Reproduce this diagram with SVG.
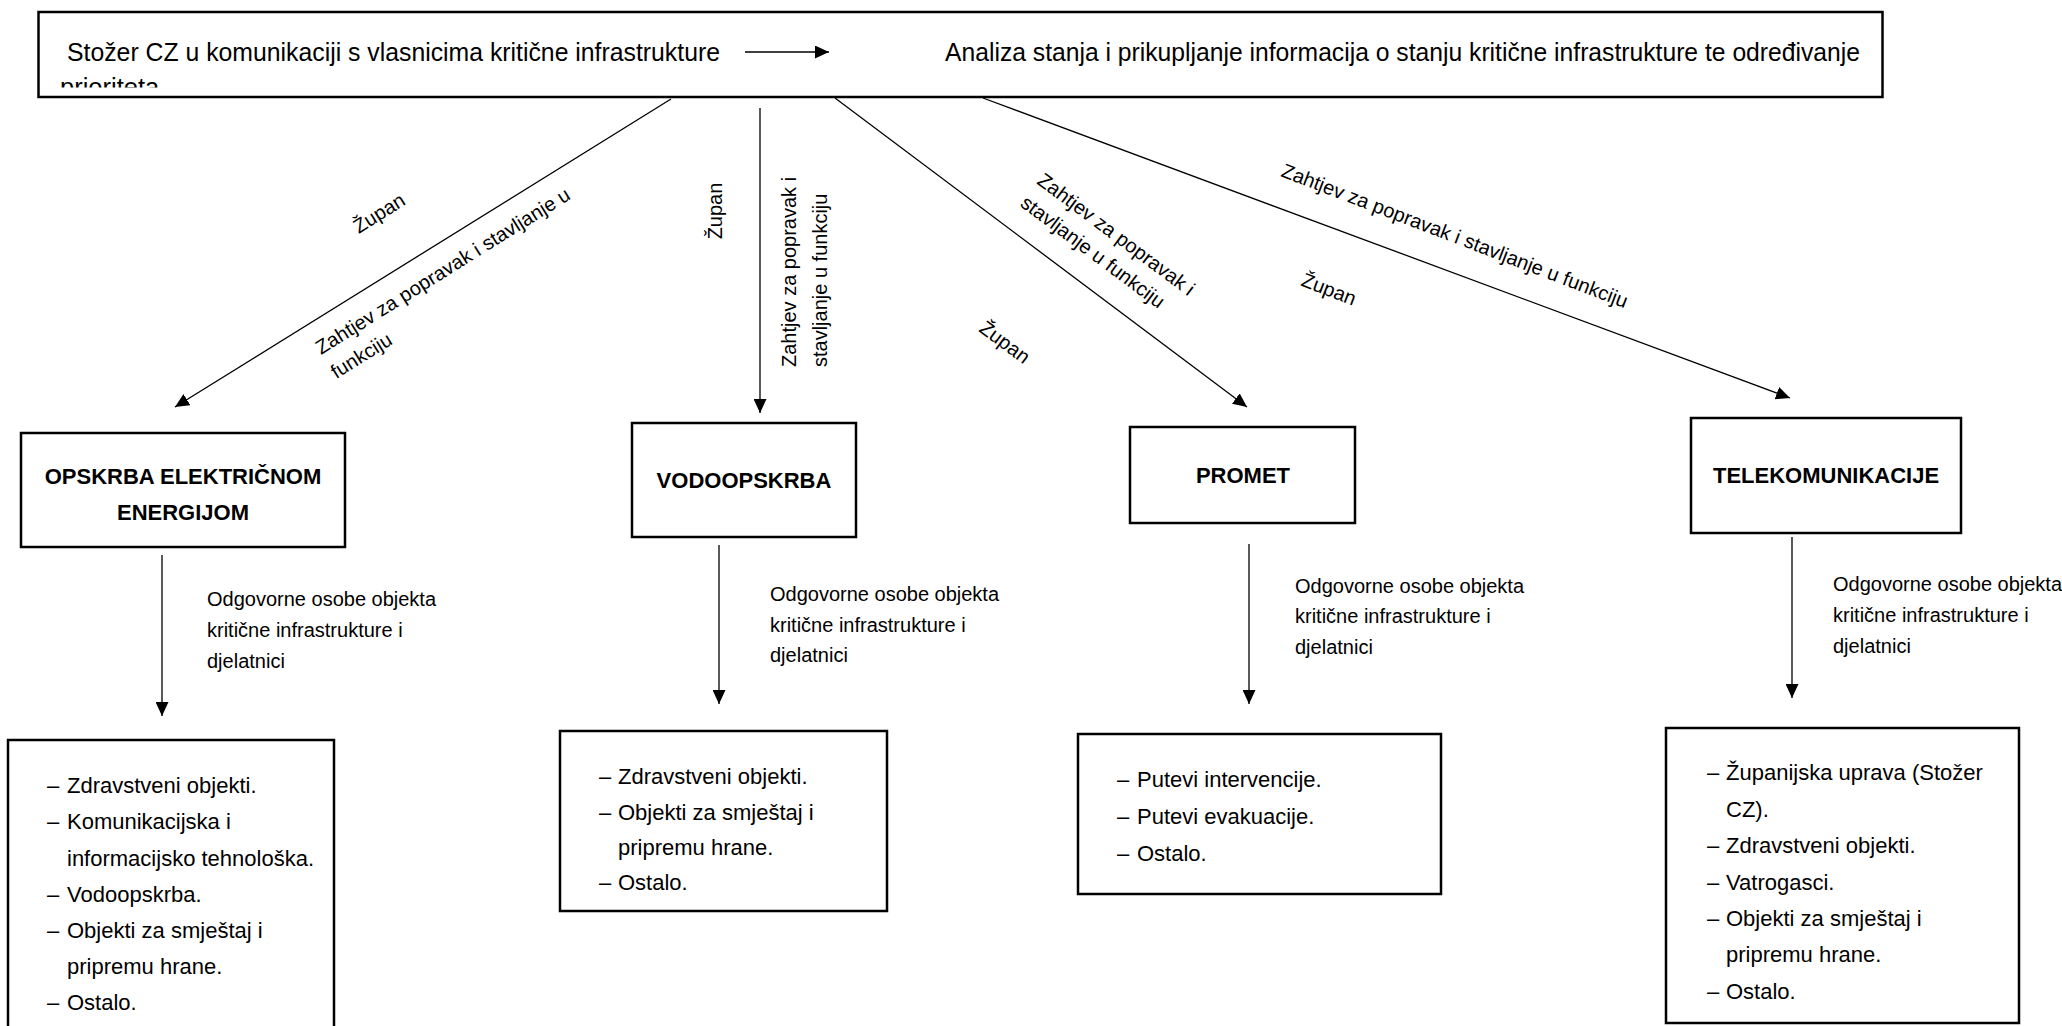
<svg xmlns="http://www.w3.org/2000/svg" width="2062" height="1026" viewBox="0 0 2062 1026">
<defs>
<marker id="ah" markerUnits="userSpaceOnUse" markerWidth="14" markerHeight="13" refX="14" refY="6.5" orient="auto"><path d="M0,0 L14,6.5 L0,13 z" fill="#000"/></marker>
<clipPath id="topclip"><rect x="40" y="13" width="1842" height="74.5"/></clipPath>
</defs>
<style>
text{font-family:"Liberation Sans",Arial,sans-serif;fill:#000}
.box{fill:#fff;stroke:#000;stroke-width:2.5}
.title{font-size:22px;font-weight:bold;text-anchor:middle}
.lbl{font-size:20px}
.mid{text-anchor:middle}
.item{font-size:22px}
.top{font-size:25.5px}
.conn{stroke:#000;stroke-width:1.3;fill:none;marker-end:url(#ah)}
</style>
<rect width="2062" height="1026" fill="#fff"/>

<g id="top-box">
<rect class="box" x="38.5" y="12" width="1844" height="85" stroke-width="3"/>
<text class="top" x="67" y="61" textLength="653" lengthAdjust="spacingAndGlyphs">Stožer CZ u komunikaciji s vlasnicima kritične infrastrukture</text>
<text class="top" x="945" y="61" textLength="915" lengthAdjust="spacingAndGlyphs">Analiza stanja i prikupljanje informacija o stanju kritične infrastrukture te određivanje</text>
<text class="top" x="60" y="96" clip-path="url(#topclip)">prioriteta</text>
</g>

<g id="connectors">
<line class="conn" x1="745" y1="52" x2="829" y2="52"/>
<line class="conn" x1="671" y1="99" x2="175" y2="407"/>
<line class="conn" x1="760" y1="108" x2="760" y2="413"/>
<line class="conn" x1="835" y1="98" x2="1247" y2="407"/>
<line class="conn" x1="983" y1="98" x2="1790" y2="398"/>
<line class="conn" x1="162" y1="555" x2="162" y2="716"/>
<line class="conn" x1="719" y1="545" x2="719" y2="704"/>
<line class="conn" x1="1249" y1="544" x2="1249" y2="704"/>
<line class="conn" x1="1792" y1="537" x2="1792" y2="698"/>
</g>

<g id="connector-labels">
<text class="lbl mid" transform="translate(379,213) rotate(-32)" y="7">Župan</text>
<g transform="translate(321,355) rotate(-32)"><text class="lbl" x="0" y="0">Zahtjev za popravak i stavljanje u</text><text class="lbl" x="0" y="28.6">funkciju</text></g>
<text class="lbl mid" transform="translate(722,211) rotate(-90)" y="0">Župan</text>
<g transform="translate(796,367) rotate(-90)"><text class="lbl" x="0" y="0">Zahtjev za popravak i</text><text class="lbl" x="0" y="31">stavljanje u funkciju</text></g>
<g transform="translate(1036,183) rotate(36.7)"><text class="lbl" x="0" y="0">Zahtjev za popravak i</text><text class="lbl" x="0" y="28">stavljanje u funkciju</text></g>
<text class="lbl mid" transform="translate(1005,342) rotate(36.7)" y="7">Župan</text>
<text class="lbl" transform="translate(1280,176) rotate(21)">Zahtjev za popravak i stavljanje u funkciju</text>
<text class="lbl mid" transform="translate(1329,289) rotate(21)" y="7">Župan</text>
<text class="lbl" x="207" y="605.5">Odgovorne osobe objekta</text>
<text class="lbl" x="207" y="636.5">kritične infrastrukture i</text>
<text class="lbl" x="207" y="667.5">djelatnici</text>
<text class="lbl" x="770" y="601">Odgovorne osobe objekta</text>
<text class="lbl" x="770" y="631.5">kritične infrastrukture i</text>
<text class="lbl" x="770" y="662">djelatnici</text>
<text class="lbl" x="1295" y="593">Odgovorne osobe objekta</text>
<text class="lbl" x="1295" y="623">kritične infrastrukture i</text>
<text class="lbl" x="1295" y="653.5">djelatnici</text>
<text class="lbl" x="1833" y="591">Odgovorne osobe objekta</text>
<text class="lbl" x="1833" y="622">kritične infrastrukture i</text>
<text class="lbl" x="1833" y="653">djelatnici</text>
</g>

<g id="node-opskrba">
<rect class="box" x="21" y="433" width="324" height="114"/>
<text class="title" x="183" y="484">OPSKRBA ELEKTRIČNOM</text>
<text class="title" x="183" y="520">ENERGIJOM</text>
</g>
<g id="node-vodoopskrba">
<rect class="box" x="632" y="423" width="224" height="114"/>
<text class="title" x="744" y="488">VODOOPSKRBA</text>
</g>
<g id="node-promet">
<rect class="box" x="1130" y="427" width="225" height="96"/>
<text class="title" x="1243" y="483">PROMET</text>
</g>
<g id="node-telekomunikacije">
<rect class="box" x="1691" y="418" width="270" height="115"/>
<text class="title" x="1826" y="483">TELEKOMUNIKACIJE</text>
</g>

<g id="list-opskrba">
<rect class="box" x="8" y="740" width="326" height="320"/>
<text class="item" x="47" y="793">–</text><text class="item" x="67" y="793">Zdravstveni objekti.</text>
<text class="item" x="47" y="829">–</text><text class="item" x="67" y="829">Komunikacijska i</text>
<text class="item" x="67" y="865.5">informacijsko tehnološka.</text>
<text class="item" x="47" y="901.5">–</text><text class="item" x="67" y="901.5">Vodoopskrba.</text>
<text class="item" x="47" y="938">–</text><text class="item" x="67" y="938">Objekti za smještaj i</text>
<text class="item" x="67" y="974">pripremu hrane.</text>
<text class="item" x="47" y="1010">–</text><text class="item" x="67" y="1010">Ostalo.</text>
</g>
<g id="list-vodoopskrba">
<rect class="box" x="560" y="731" width="327" height="180"/>
<text class="item" x="599" y="784">–</text><text class="item" x="618" y="784">Zdravstveni objekti.</text>
<text class="item" x="599" y="819.5">–</text><text class="item" x="618" y="819.5">Objekti za smještaj i</text>
<text class="item" x="618" y="855">pripremu hrane.</text>
<text class="item" x="599" y="890">–</text><text class="item" x="618" y="890">Ostalo.</text>
</g>
<g id="list-promet">
<rect class="box" x="1078" y="734" width="363" height="160"/>
<text class="item" x="1117" y="787">–</text><text class="item" x="1137" y="787">Putevi intervencije.</text>
<text class="item" x="1117" y="824">–</text><text class="item" x="1137" y="824">Putevi evakuacije.</text>
<text class="item" x="1117" y="861">–</text><text class="item" x="1137" y="861">Ostalo.</text>
</g>
<g id="list-telekomunikacije">
<rect class="box" x="1666" y="728" width="353" height="295"/>
<text class="item" x="1707" y="780">–</text><text class="item" x="1726" y="780">Županijska uprava (Stožer</text>
<text class="item" x="1726" y="816.5">CZ).</text>
<text class="item" x="1707" y="853">–</text><text class="item" x="1726" y="853">Zdravstveni objekti.</text>
<text class="item" x="1707" y="889.5">–</text><text class="item" x="1726" y="889.5">Vatrogasci.</text>
<text class="item" x="1707" y="926">–</text><text class="item" x="1726" y="926">Objekti za smještaj i</text>
<text class="item" x="1726" y="962">pripremu hrane.</text>
<text class="item" x="1707" y="998.5">–</text><text class="item" x="1726" y="998.5">Ostalo.</text>
</g>
</svg>
